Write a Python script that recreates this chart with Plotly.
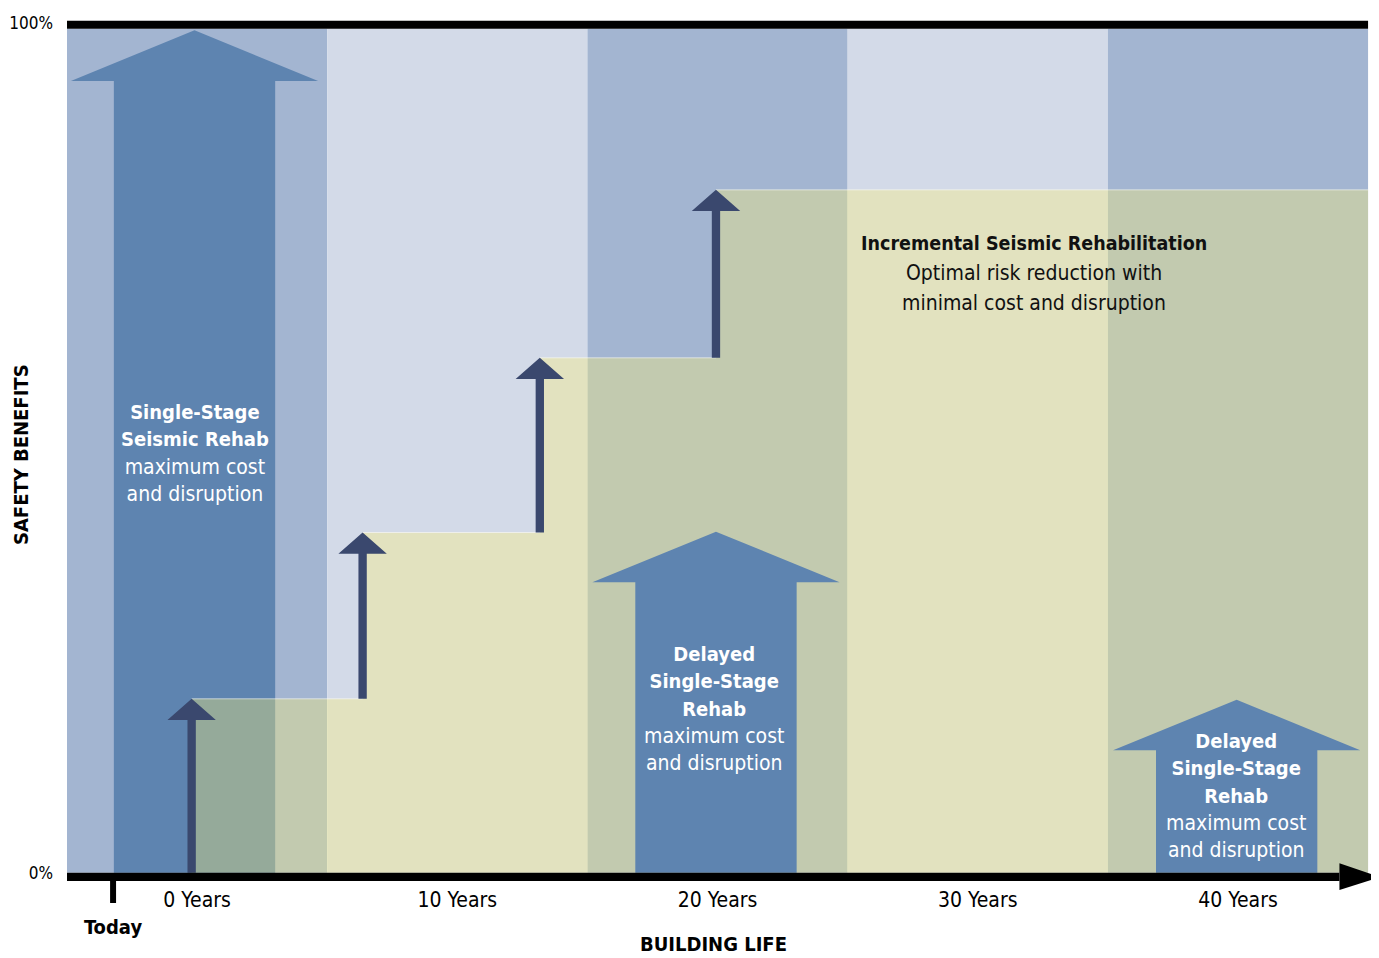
import plotly.graph_objects as go

# ---------------- data ----------------
band_edges = [-5, 5, 15, 25, 35, 45]              # building-life bands (years)
step_years = [-0.21, 6.36, 13.17, 19.94]          # incremental rehab steps (years)
step_levels = [20.6, 40.3, 61.0, 80.9]            # safety benefit after each step (%)
rehab_years = [-0.1, 19.94, 39.95]                # single-stage rehab timing (years)
rehab_levels = [99.8, 40.4, 20.5]                 # single-stage benefit (%)
x_tick_years = [0, 10, 20, 30, 40]
x_tick_labels = ["0 Years", "10 Years", "20 Years", "30 Years", "40 Years"]
y_tick_vals = [0, 100.7]
y_tick_labels = ["0%", "100%"]
today_year = -3.23
x_end = 45

rehab_titles = ["Single-Stage<br>Seismic Rehab",
                "Delayed<br>Single-Stage<br>Rehab",
                "Delayed<br>Single-Stage<br>Rehab"]
rehab_notes = ["maximum cost<br>and disruption"] * 3
rehab_text_pos = [(-0.1, 49.67), (19.86, 19.5), (39.93, 9.09)]
incr_lines = ["<b>Incremental Seismic Rehabilitation</b>",
              "Optimal risk reduction with",
              "minimal cost and disruption"]
incr_line_pos = [(32.17, 74.6), (32.17, 71.05), (32.17, 67.5)]

# ---------------- style ----------------
FONT = "Liberation Sans Narrow, DejaVu Sans Condensed, Roboto Condensed, Roboto, Arial Narrow, sans-serif"
DARK_BAND = "#a3b5d1"
LIGHT_BAND = "#d3dae8"
BLUE = "#5e84b0"
NAVY = "#3a486e"
STEP_FILL = "rgba(255,242,112,0.34)"
BIG_SHAFT, BIG_HEAD, BIG_HEADLEN = 3.1, 4.75, 6.0
SM_SHAFT, SM_HEAD, SM_HEADLEN = 0.16, 0.93, 2.5
Y_RANGE = [-1.46, 101.5]
X_RANGE = [-5.5, 45.42]

fig = go.Figure()


def add_poly(xs, ys, color, line=None):
    fig.add_trace(go.Scatter(x=xs, y=ys, mode="lines", fill="toself", fillcolor=color,
                             line=line or dict(width=0), hoverinfo="skip", showlegend=False))


def arrow(c, base, tip, shaft, head, headlen):
    hb = tip - headlen
    xs = [c - shaft, c - shaft, c - head, c, c + head, c + shaft, c + shaft, c - shaft]
    ys = [base, hb, hb, tip, hb, hb, base, base]
    return xs, ys


def ydom(v):
    return (v - Y_RANGE[0]) / (Y_RANGE[1] - Y_RANGE[0])


# bands
for i in range(len(band_edges) - 1):
    x0, x1 = band_edges[i], band_edges[i + 1]
    add_poly([x0, x1, x1, x0, x0], [0, 0, 100, 100, 0], DARK_BAND if i % 2 == 0 else LIGHT_BAND)

# first single-stage arrow (beneath the incremental area)
xs, ys = arrow(rehab_years[0], 0, rehab_levels[0], BIG_SHAFT, BIG_HEAD, BIG_HEADLEN)
add_poly(xs, ys, BLUE)

# incremental step area
sx, sy = [step_years[0]], [0]
for i, (yr, lv) in enumerate(zip(step_years, step_levels)):
    sx += [yr, step_years[i + 1] if i + 1 < len(step_years) else x_end]
    sy += [lv, lv]
add_poly(sx + [x_end, step_years[0]], sy + [0, 0], STEP_FILL)
fig.add_trace(go.Scatter(x=sx[1:], y=sy[1:], mode="lines",
                         line=dict(color="rgba(255,255,255,0.55)", width=1),
                         hoverinfo="skip", showlegend=False))

# delayed single-stage arrows
for c, t in zip(rehab_years[1:], rehab_levels[1:]):
    xs, ys = arrow(c, 0, t, BIG_SHAFT, BIG_HEAD, BIG_HEADLEN)
    add_poly(xs, ys, BLUE)

# small incremental arrows
prev = 0
for yr, lv in zip(step_years, step_levels):
    xs, ys = arrow(yr, prev, lv, SM_SHAFT, SM_HEAD, SM_HEADLEN)
    add_poly(xs, ys, NAVY)
    prev = lv

# frame: top bar, bottom bar
add_poly([-5, x_end, x_end, -5, -5], [100, 100, 100.95, 100.95, 100], "black")
add_poly([-5, 43.9, 43.9, -5, -5], [-0.98, -0.98, 0, 0, -0.98], "black")

# arrow head of the time axis and the "Today" tick (extend below the plot area)
tri = [(43.9, 1.11), (45.46, -0.51), (43.9, -2.05)]
path = "M " + " L ".join(f"{x},{ydom(y)}" for x, y in tri) + " Z"
shapes = [
    dict(type="path", xref="x", yref="y domain", path=path,
         fillcolor="black", line=dict(width=0), layer="above"),
    dict(type="rect", xref="x", yref="y domain", x0=today_year - 0.115, x1=today_year + 0.115,
         y0=ydom(-3.59), y1=ydom(-0.98), fillcolor="black", line=dict(width=0), layer="above"),
]

annotations = []
for title, note, (ax, ay) in zip(rehab_titles, rehab_notes, rehab_text_pos):
    t = "<br>".join(f"<b><span style='font-size:20px'>{s}</span></b>" for s in title.split("<br>"))
    annotations.append(dict(x=ax, y=ay, xref="x", yref="y", text=t + "<br>" + note, showarrow=False,
                            font=dict(family=FONT, size=21, color="white")))
for i, (txt, (ax, ay)) in enumerate(zip(incr_lines, incr_line_pos)):
    annotations.append(dict(x=ax, y=ay, xref="x", yref="y", text=txt, showarrow=False,
                            font=dict(family=FONT, size=19.5 if i == 0 else 21, color="#111111")))
common = dict(xref="paper", yref="paper", showarrow=False, xanchor="center", yanchor="middle")
annotations.append(dict(x=0.0445, y=-0.0483, text="<b>Today</b>",
                        font=dict(family=FONT, size=20, color="black"), **common))
annotations.append(dict(x=0.4981, y=-0.0679, text="<b>BUILDING LIFE</b>",
                        font=dict(family=FONT, size=20, color="black"), **common))
annotations.append(dict(x=-0.0249, y=0.4948, text="<b>SAFETY BENEFITS</b>", textangle=-90,
                        font=dict(family=FONT, size=20, color="black"), **common))

fig.update_layout(
    width=1371, height=950,
    margin=dict(l=46, r=0, t=8, b=73),
    paper_bgcolor="white", plot_bgcolor="white",
    showlegend=False,
    annotations=annotations,
    shapes=shapes,
    xaxis=dict(range=X_RANGE, showgrid=False, zeroline=False, showline=False, automargin=False,
               tickvals=x_tick_years, ticktext=x_tick_labels, ticks="",
               tickfont=dict(family=FONT, size=21, color="black"), fixedrange=True),
    yaxis=dict(range=Y_RANGE, showgrid=False, zeroline=False, showline=False, automargin=False,
               tickvals=y_tick_vals, ticktext=y_tick_labels, ticks="",
               tickfont=dict(family=FONT, size=17, color="black"), fixedrange=True),
)

fig.write_html("out.html")
